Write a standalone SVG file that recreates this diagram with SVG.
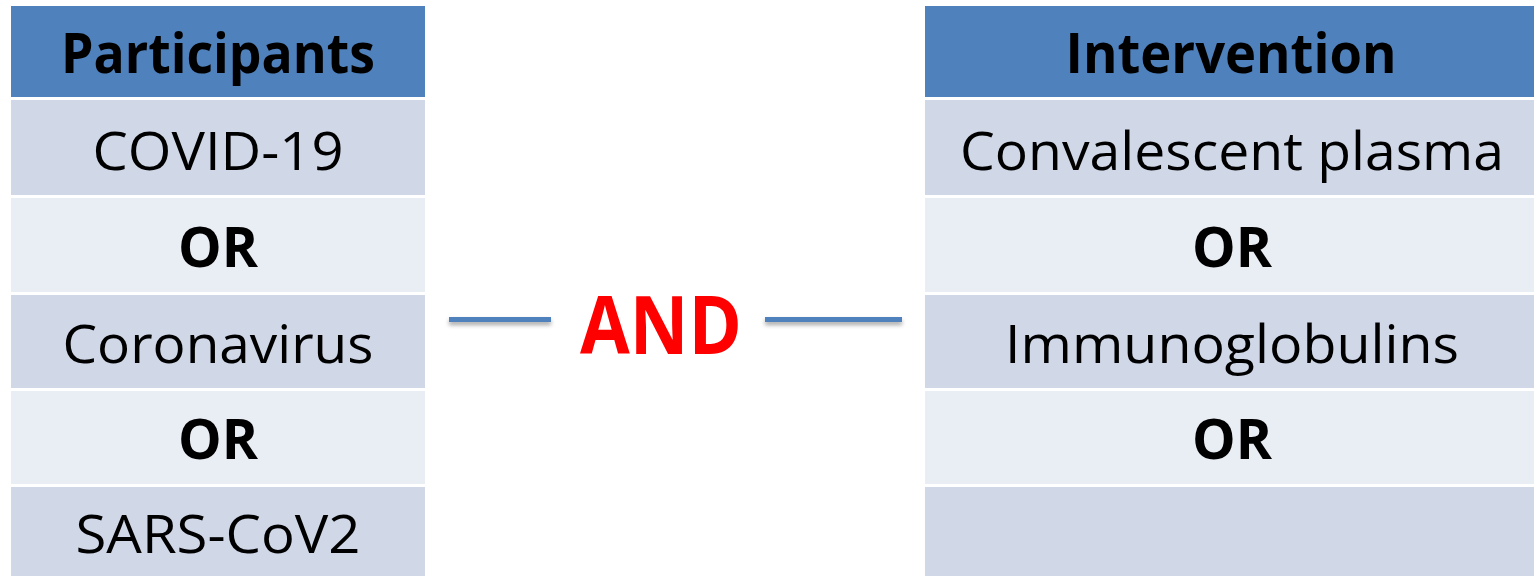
<svg xmlns="http://www.w3.org/2000/svg" width="1534" height="576" viewBox="0 0 1534 576">
<style>
.hd{fill:#4F81BD}
.r1{fill:#D0D8E8}
.r2{fill:#E9EDF4}
text{font-family:"Open Sans","Noto Sans","Liberation Sans",sans-serif;text-anchor:middle;fill:#000}
.b{font-weight:bold;font-size:56px}
.n{font-size:53px}
.and{font-weight:bold;font-size:80px;fill:#FF0000}
.ln{fill:#4F81BD}
</style>
<defs>
<filter id="sh" filterUnits="userSpaceOnUse" x="400" y="290" width="560" height="60">
<feDropShadow dx="0" dy="3" stdDeviation="2" flood-color="#000" flood-opacity="0.35"/>
</filter>
</defs>
<g id="participants">
<rect class="hd" x="11" y="6" width="414" height="91"/>
<rect class="r1" x="11" y="100" width="414" height="95"/>
<rect class="r2" x="11" y="198" width="414" height="94"/>
<rect class="r1" x="11" y="295" width="414" height="93"/>
<rect class="r2" x="11" y="391" width="414" height="93"/>
<rect class="r1" x="11" y="487" width="414" height="89"/>
<text class="b" x="218" y="73" textLength="314" lengthAdjust="spacingAndGlyphs">Participants</text>
<text class="n" x="218" y="170" textLength="251" lengthAdjust="spacingAndGlyphs">COVID-19</text>
<text class="b" x="218" y="267" textLength="80" lengthAdjust="spacingAndGlyphs">OR</text>
<text class="n" x="218" y="363" textLength="311" lengthAdjust="spacingAndGlyphs">Coronavirus</text>
<text class="b" x="218" y="459" textLength="80" lengthAdjust="spacingAndGlyphs">OR</text>
<text class="n" x="218" y="553" textLength="285" lengthAdjust="spacingAndGlyphs">SARS-CoV2</text>
</g>
<g id="intervention">
<rect class="hd" x="925" y="6" width="609" height="91"/>
<rect class="r1" x="925" y="100" width="609" height="95"/>
<rect class="r2" x="925" y="198" width="609" height="94"/>
<rect class="r1" x="925" y="295" width="609" height="93"/>
<rect class="r2" x="925" y="391" width="609" height="93"/>
<rect class="r1" x="925" y="487" width="609" height="89"/>
<text class="b" x="1231" y="73" textLength="331" lengthAdjust="spacingAndGlyphs">Intervention</text>
<text class="n" x="1232" y="170" textLength="544" lengthAdjust="spacingAndGlyphs">Convalescent plasma</text>
<text class="b" x="1232" y="267" textLength="80" lengthAdjust="spacingAndGlyphs">OR</text>
<text class="n" x="1232" y="363" textLength="454" lengthAdjust="spacingAndGlyphs">Immunoglobulins</text>
<text class="b" x="1232" y="459" textLength="80" lengthAdjust="spacingAndGlyphs">OR</text>
</g>
<g id="connectors" filter="url(#sh)">
<rect class="ln" x="449" y="317" width="102" height="5"/>
<rect class="ln" x="765" y="317" width="137" height="5"/>
</g>
<g id="and">
<text class="and" x="661" y="354" textLength="162" lengthAdjust="spacingAndGlyphs">AND</text>
</g>
</svg>
